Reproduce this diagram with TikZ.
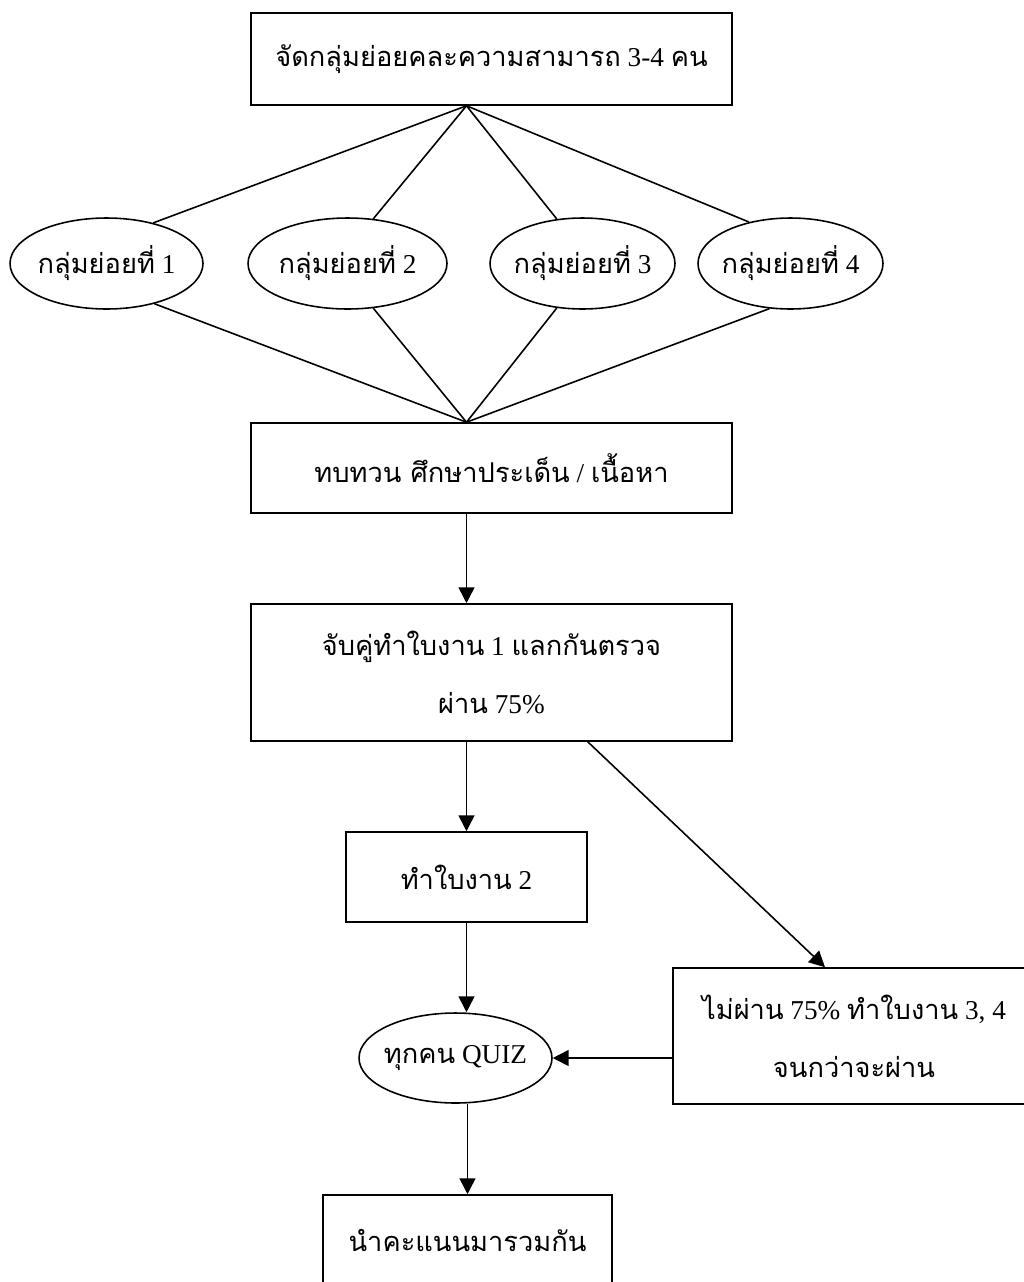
\documentclass[tikz,border=0pt]{standalone}
\usepackage{fontspec}
\setmainfont{Liberation Serif}
\newfontfamily\thaifont[Script=Thai]{Loma}
\usetikzlibrary{arrows.meta}
\usetikzlibrary{shapes.geometric}

\begin{document}
\begin{tikzpicture}[
  x = 0.02cm, y = -0.02cm, line width=0.9pt,
  > = {Triangle[length=9pt,width=9pt]},
  box/.style = {draw,rectangle,inner sep=0pt,align=center,font=\fontsize{15.5}{33}\selectfont},
  oval/.style = {draw,ellipse,inner ysep=0pt,inner xsep=-0.12cm,minimum height=1.82cm,font=\fontsize{15.5}{33}\selectfont}
  ]
  \clip (0,0) rectangle (1024,1282);

  \node[box,minimum width=9.62cm,minimum height=1.84cm] (@top) at (491.5,59)
    {{\thaifont จัดกลุ่มย่อยคละความสามารถ} 3-4 {\thaifont คน}};
  \node[oval,minimum width=3.86cm] (@1) at (106.5,263.5) {{\thaifont กลุ่มย่อยที่} 1};
  \node[oval,minimum width=3.98cm] (@2) at (347.5,263.5) {{\thaifont กลุ่มย่อยที่} 2};
  \node[oval,minimum width=3.7cm] (@3) at (582.5,263.5) {{\thaifont กลุ่มย่อยที่} 3};
  \node[oval,minimum width=3.7cm] (@4) at (790.5,263.5) {{\thaifont กลุ่มย่อยที่} 4};
  \node[box,minimum width=9.62cm,minimum height=1.8cm] (@review) at (491.5,468)
    {{\thaifont ทบทวน ศึกษาประเด็น} / {\thaifont เนื้อหา}};
  \node[box,minimum width=9.62cm,minimum height=2.74cm] (@check) at (491.5,672.5)
    {{\thaifont จับคู่ทำใบงาน} 1 {\thaifont แลกกันตรวจ}\\{\thaifont ผ่าน} 75\%};
  \node[box,minimum width=4.82cm,minimum height=1.8cm] (@work) at (466.5,877)
    {{\thaifont ทำใบงาน} 2};
  \node[oval,minimum width=3.86cm,minimum height=1.8cm] (@quiz) at (455.5,1058)
    {{\thaifont ทุกคน} QUIZ};
  \node[box,minimum width=7.24cm,minimum height=2.72cm] (@fail) at (854,1036)
    {{\thaifont ไม่ผ่าน} 75\% {\thaifont ทำใบงาน} 3, 4\\{\thaifont จนกว่าจะผ่าน}};
  \node[box,minimum width=5.78cm,minimum height=1.8cm] (@sum) at (467.5,1240)
    {{\thaifont นำคะแนนมารวมกัน}};

  \draw (@top.south -| @work) -- (@1.41);
  \draw (@top.south -| @work) -- (@2.60);
  \draw (@top.south -| @work) -- (@3.120);
  \draw (@top.south -| @work) -- (@4.135);
  \draw (@1.-40) -- (@review.north -| @work);
  \draw (@2.-60) -- (@review.north -| @work);
  \draw (@3.-120) -- (@review.north -| @work);
  \draw (@4.-115) -- (@review.north -| @work);

  \draw[->] (@review.south -| @work) -- (@check.north -| @work);
  \draw[->] (@check.south -| @work) -- (@work.north);
  \draw[->] (@check.south -| @work.east) -- ([xshift=-0.58cm]@fail.north);
  \draw[->] (@work.south) -- (@work.south |- @quiz.north);
  \draw[->] (@fail.west |- @quiz) -- (@quiz.east);
  \draw[->] (@quiz.south -| @sum) -- (@sum.north);
\end{tikzpicture}
\end{document}
